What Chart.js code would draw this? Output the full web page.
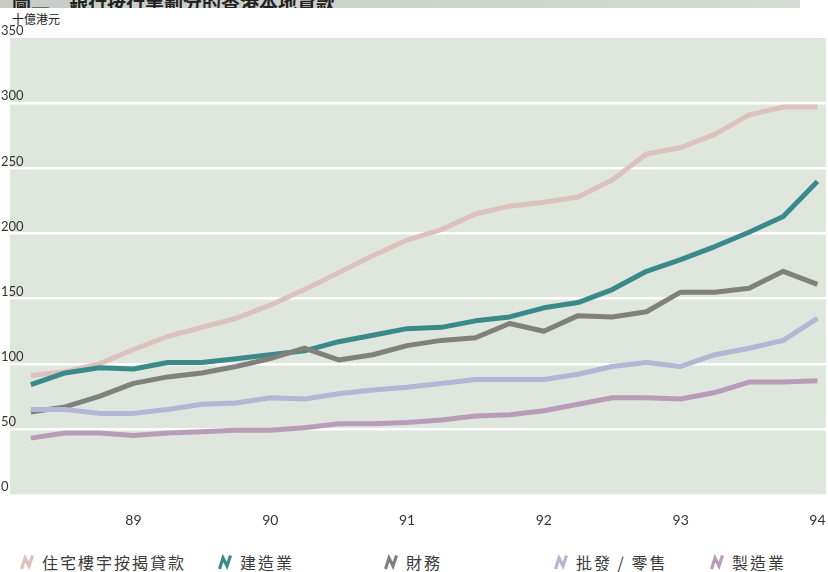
<!DOCTYPE html>
<html>
<head>
<meta charset="utf-8">
<script src="https://cdn.jsdelivr.net/npm/chart.js"></script>
<style>
  body { margin: 0; background: #fff; width: 828px; height: 572px; overflow: hidden; position: relative; }
  #titleBar { position: absolute; left: 0; top: 0; width: 800px; height: 8px; overflow: hidden;
    background: linear-gradient(to right, #c7ccc6, #d6dad4); }
  #titleBar span { position: absolute; left: 12px; top: -12px; font: bold 19px "Noto Sans CJK TC", sans-serif; color: #222; white-space: nowrap; }
  #unit { position: absolute; left: 12px; top: 10px; font: 12px "Noto Sans CJK TC", sans-serif; color: #222; }
  #wrap { position: absolute; left: 0; top: 0; width: 828px; height: 547px; }
  #legend { position: absolute; top: 550px; left: 0; width: 828px; height: 24px;
    font: 16px "Noto Sans CJK TC", sans-serif; color: #3a3a3a; letter-spacing: 2px; }
  #legend .item { position: absolute; display: flex; align-items: center; gap: 8px; }
</style>
</head>
<body>
<div id="titleBar"><span>圖二　銀行按行業劃分的香港本地貸款</span></div>
<div id="unit">十億港元</div>
<div id="wrap"><canvas id="loanChart"></canvas></div>
<div id="legend"></div>

<script>
// Quarterly data, 1988 Q2 to 1994 Q1 (HK$ billion)
const quarters = ['88Q2','88Q3','88Q4','89Q1','89Q2','89Q3','89Q4','90Q1','90Q2','90Q3','90Q4','91Q1',
                  '91Q2','91Q3','91Q4','92Q1','92Q2','92Q3','92Q4','93Q1','93Q2','93Q3','93Q4','94Q1'];
const yearTicks = [3, 7, 11, 15, 19, 23];
const yearLabels = ['89', '90', '91', '92', '93', '94'];

const mortgage = [91, 94, 100, 111, 121, 128, 135, 145, 157, 170, 183, 195,
                  203, 215, 221, 224, 228, 241, 261, 266, 276, 291, 297, 297];
const construction = [84, 93, 97, 96, 101, 101, 104, 107, 110, 117, 122, 127,
                      128, 133, 136, 143, 147, 157, 171, 180, 190, 201, 213, 240];
const finance = [63, 67, 75, 85, 90, 93, 98, 104, 112, 103, 107, 114,
                 118, 120, 131, 125, 137, 136, 140, 155, 155, 158, 171, 161];
const wholesale = [65, 65, 62, 62, 65, 69, 70, 74, 73, 77, 80, 82,
                   85, 88, 88, 88, 92, 98, 101, 98, 107, 112, 118, 135];
const manufacturing = [43, 47, 47, 45, 47, 48, 49, 49, 51, 54, 54, 55,
                       57, 60, 61, 64, 69, 74, 74, 73, 78, 86, 86, 87];

const seriesNames = ['住宅樓宇按揭貸款', '建造業', '財務', '批發 / 零售', '製造業'];
const seriesColors = ['#dcc1bf', '#3b8a8b', '#81817c', '#b4b6d3', '#ba9cb8'];
const seriesData = [mortgage, construction, finance, wholesale, manufacturing];

const toPoints = arr => arr.map((v, i) => ({ x: i, y: v }));

// Plot background band
const bgPlugin = {
    id: 'plotBg',
    beforeDraw(chart) {
        const { ctx, chartArea: a } = chart;
        ctx.save();
        ctx.fillStyle = '#dee6dd';
        ctx.fillRect(a.left, a.top, a.right - a.left, a.bottom - a.top);
        ctx.restore();
    }
};

new Chart(document.getElementById('loanChart'), {
    type: 'line',
    data: {
        datasets: seriesData.map((d, i) => ({
            label: seriesNames[i],
            data: toPoints(d),
            borderColor: seriesColors[i],
            borderWidth: 5,
            pointRadius: 0,
            tension: 0,
            borderJoinStyle: 'round'
        })).reverse()
    },
    options: {
        responsive: true,
        maintainAspectRatio: false,
        animation: false,
        layout: { padding: { top: 38, left: 10, right: 2, bottom: 0 } },
        plugins: { legend: { display: false }, tooltip: { enabled: false } },
        scales: {
            x: {
                type: 'linear',
                min: -0.61,
                max: 23.25,
                afterBuildTicks: scale => { scale.ticks = yearTicks.map(v => ({ value: v })); },
                afterFit: scale => { scale.paddingLeft = 0; scale.paddingRight = 0; },
                grid: { display: false, drawTicks: false },
                border: { display: false },
                ticks: {
                    padding: 18,
                    color: '#333',
                    font: { family: 'Lato', size: 14 },
                    callback: v => yearLabels[yearTicks.indexOf(v)]
                }
            },
            y: {
                min: 0,
                max: 350,
                ticks: {
                    stepSize: 50,
                    mirror: true,
                    padding: -3,
                    labelOffset: -7,
                    color: '#333',
                    font: { family: 'Lato', size: 13 }
                },
                grid: {
                    drawTicks: false,
                    lineWidth: 2.5,
                    color: c => (c.tick.value === 0 || c.tick.value === 350) ? 'rgba(0,0,0,0)' : '#ffffff'
                },
                border: { display: false }
            }
        }
    },
    plugins: [bgPlugin]
});

// Legend with zigzag icons
const legendX = [20, 218, 384, 554, 710];
const legend = document.getElementById('legend');
seriesNames.forEach((name, i) => {
    const item = document.createElement('div');
    item.className = 'item';
    item.style.left = legendX[i] + 'px';
    item.innerHTML = `<svg width="14" height="16" viewBox="0 0 14 16"><polyline points="1.5,15 5,4 9,12 12.5,1.5" fill="none" stroke="${seriesColors[i]}" stroke-width="3.2" stroke-linejoin="miter"/></svg><span>${name}</span>`;
    legend.appendChild(item);
});
</script>
</body>
</html>
